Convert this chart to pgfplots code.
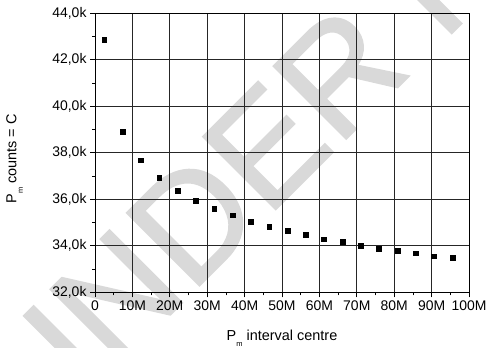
\documentclass[border=0pt]{standalone}
\usepackage{pgfplots}
\pgfplotsset{compat=1.18}
\usepackage{fontspec}
\setmainfont{Liberation Sans}
\newfontfamily\wmfont{Liberation Sans}[FakeBold=1.2]
\begin{document}
\begin{tikzpicture}[x=1bp,y=1bp]
\path[use as bounding box] (0,0) rectangle (488,347);
\begin{scope}
\clip (0,0) rectangle (488,347);
\node[rotate=45, anchor=base west, inner sep=0pt, text=black!15, font=\wmfont\fontsize{150}{150}\selectfont] at (38,-100) {UNDER REVIEW};
\end{scope}
\begin{axis}[
  at={(95bp,54.7bp)}, anchor=south west,
  scale only axis, width=374bp, height=279bp,
  xmin=0, xmax=100, ymin=32, ymax=44,
  xtick={0,10,...,100},
  xticklabels={0,10M,20M,30M,40M,50M,60M,70M,80M,90M,100M},
  ytick={32,34,...,44},
  yticklabels={{32,0k},{34,0k},{36,0k},{38,0k},{40,0k},{42,0k},{44,0k}},
  minor x tick num=1, minor y tick num=1,
  tick align=outside, tick pos=left,
  major tick length=5bp, minor tick length=3bp,
  every tick/.style={black, line width=0.8bp},
  axis line style={black, line width=0.9bp},
  grid=major,
  major grid style={black!85, line width=0.8bp},
  tick label style={font=\fontsize{14}{16}\selectfont},
  label style={font=\fontsize{14.5}{17}\selectfont},
  xlabel={P\raisebox{-0.45em}{\fontsize{7.5}{8}\selectfont m} interval centre},
  ylabel={P\raisebox{-0.45em}{\fontsize{7.5}{8}\selectfont m} counts = C},
  xlabel style={at={(axis description cs:0.5,-0.171)}, anchor=base},
  ylabel style={at={(axis description cs:-0.215,0.478)}, anchor=center},
  clip mode=global,
]
\addplot[only marks, mark=square*, mark size=2.4bp, black] coordinates {
(2.45,42.88) (7.35,38.92) (12.25,37.68) (17.15,36.93) (22.05,36.37)
(26.95,35.93) (31.85,35.58) (36.75,35.32) (41.65,35.02) (46.55,34.82)
(51.45,34.64) (56.35,34.48) (61.25,34.28) (66.15,34.16) (71.05,34.02)
(75.95,33.88) (80.85,33.78) (85.75,33.68) (90.65,33.55) (95.55,33.49)
(100.45,33.39)
};
\end{axis}
\end{tikzpicture}
\end{document}
